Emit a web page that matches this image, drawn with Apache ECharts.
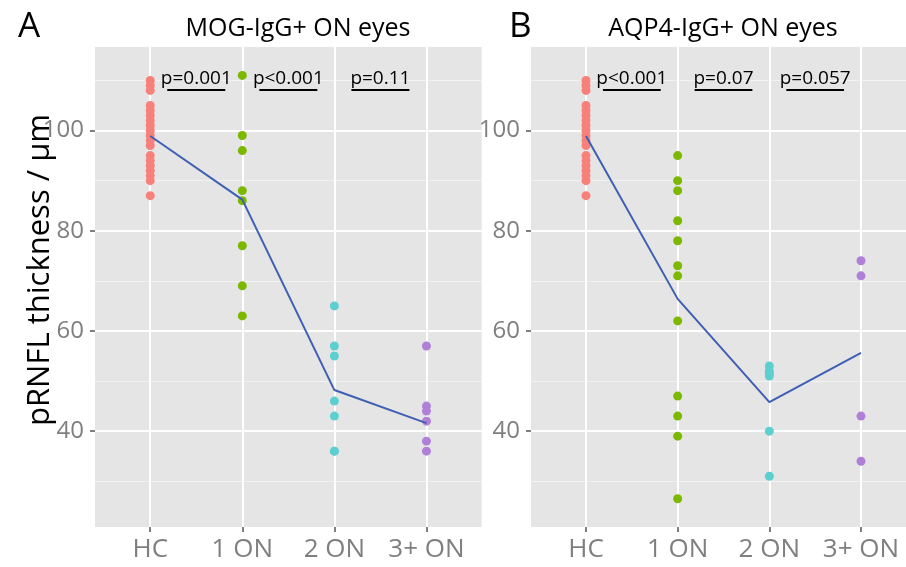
<!DOCTYPE html>
<html>
<head>
<meta charset="utf-8">
<script src="https://cdn.jsdelivr.net/npm/echarts@6/dist/echarts.min.js"></script>
<style>
    html, body { margin: 0; padding: 0; background: #fff; }
    #chart { width: 906px; height: 567px; }
</style>
</head>
<body>
<div id="chart"></div>
<script>
    // categories on the x axis (same for both panels)
    const categories = ['HC', '1 ON', '2 ON', '3+ ON'];

    // A: MOG-IgG+ ON eyes
    const mogHC = [110, 109, 108, 105, 104, 103, 102, 101, 100, 99, 98, 97, 95, 94, 93, 92, 91, 90, 87];
    const mog1ON = [111, 99, 96, 88, 86, 77, 69, 63];
    const mog2ON = [65, 57, 55, 46, 43, 36, 36];
    const mog3ON = [57, 45, 44, 42, 38, 36];
    const mogMean = [98.9, 86.2, 48.2, 41.6];
    const mogP = ['p=0.001', 'p<0.001', 'p=0.11'];

    // B: AQP4-IgG+ ON eyes
    const aqpHC = [110, 109, 108, 105, 104, 103, 102, 101, 100, 99, 98, 97, 95, 94, 93, 92, 91, 90, 87];
    const aqp1ON = [95, 90, 88, 82, 78, 73, 71, 62, 47, 43, 39, 26.5];
    const aqp2ON = [53, 52, 51.5, 51, 40, 31];
    const aqp3ON = [74, 71, 43, 34];
    const aqpMean = [98.9, 66.4, 45.8, 55.6];
    const aqpP = ['p<0.001', 'p=0.07', 'p=0.057'];

    // y tick labels
    const yMajor = [40, 60, 80, 100];
    const yMinor = [30, 50, 70, 90, 110];
    const pLineY = 108.1;

    (function(){
        let myChart = echarts.init(document.getElementById('chart'));
        const font = 'Open Sans';
        const colors = ['#F8807A', '#7DB800', '#5DCFD0', '#B080D8'];

        function xAxisFor(idx){
            return {
                type: 'value', gridIndex: idx, min: 0.4, max: 4.6,
                axisLine: { show: false },
                axisTick: { customValues: [1, 2, 3, 4], length: 5, lineStyle: { color: '#555', width: 1.5 } },
                axisLabel: {
                    customValues: [1, 2, 3, 4],
                    formatter: function(v){ return categories[Math.round(v) - 1]; },
                    color: '#7F7F7F', fontSize: 26, fontFamily: font, margin: 10
                },
                splitLine: { show: true, lineStyle: { color: '#FFFFFF', width: 2 } }
            };
        }

        function yAxisFor(idx){
            return {
                type: 'value', gridIndex: idx, min: 20.87, max: 116.67,
                axisLine: { show: false },
                axisTick: { customValues: yMajor, length: 5, lineStyle: { color: '#555', width: 1.5 } },
                axisLabel: { customValues: yMajor, color: '#7F7F7F', fontSize: 24, fontFamily: font, margin: 11 },
                splitLine: { show: true, lineStyle: { color: '#FFFFFF', width: 2 } }
            };
        }

        function yMinorFor(idx){
            return {
                type: 'value', gridIndex: idx, min: 20.87, max: 116.67,
                axisLine: { show: false },
                axisTick: { show: false, customValues: yMinor },
                axisLabel: { show: false },
                splitLine: { show: true, lineStyle: { color: '#F2F2F2', width: 1 } }
            };
        }

        function points(values, pos){
            return values.map(function(v){ return [pos, v]; });
        }

        function panelSeries(idx, groups, means, pLabels){
            let out = [];
            groups.forEach(function(g, i){
                out.push({
                    type: 'scatter', xAxisIndex: idx, yAxisIndex: idx * 2,
                    symbolSize: 9, itemStyle: { color: colors[i], opacity: 1 },
                    data: points(g, i + 1), z: 3
                });
            });
            let pLines = pLabels.map(function(p, i){
                return [
                    { name: p, coord: [i + 1 + 0.185, pLineY] },
                    { coord: [i + 1 + 0.815, pLineY] }
                ];
            });
            out.push({
                type: 'line', xAxisIndex: idx, yAxisIndex: idx * 2,
                data: means.map(function(m, i){ return [i + 1, m]; }),
                showSymbol: false, symbol: 'none',
                lineStyle: { color: '#3F5FB5', width: 2 }, z: 4,
                markLine: {
                    silent: true, symbol: ['none', 'none'],
                    lineStyle: { color: '#000', width: 2, type: 'solid' },
                    label: { show: true, position: 'middle', formatter: '{b}', color: '#000', fontSize: 19, fontFamily: font, distance: 2 },
                    data: pLines
                }
            });
            return out;
        }

        let option = {
            animation: false,
            backgroundColor: '#FFFFFF',
            title: [
                { text: 'A', left: 13, top: 5, textStyle: { fontSize: 35, fontWeight: 'normal', fontFamily: font, color: '#000' } },
                { text: 'B', left: 504, top: 5, textStyle: { fontSize: 35, fontWeight: 'normal', fontFamily: font, color: '#000' } },
                { text: 'MOG-IgG+ ON eyes', left: 293, top: 11, textAlign: 'center', textStyle: { fontSize: 25, fontWeight: 'normal', fontFamily: font, color: '#000' } },
                { text: 'AQP4-IgG+ ON eyes', left: 718, top: 11, textAlign: 'center', textStyle: { fontSize: 25, fontWeight: 'normal', fontFamily: font, color: '#000' } }
            ],
            graphic: [{
                type: 'text', x: 40, y: 270, rotation: Math.PI / 2,
                style: { text: 'pRNFL thickness / µm', fontSize: 31, fontFamily: font, fill: '#000', align: 'center', verticalAlign: 'middle' }
            }],
            grid: [
                { left: 95, top: 47, width: 386.7, height: 480, show: true, backgroundColor: '#E5E5E5', borderWidth: 0, outerBoundsMode: 'none' },
                { left: 531, top: 47, width: 385, height: 480, show: true, backgroundColor: '#E5E5E5', borderWidth: 0, outerBoundsMode: 'none' }
            ],
            xAxis: [xAxisFor(0), xAxisFor(1)],
            yAxis: [yAxisFor(0), yMinorFor(0), yAxisFor(1), yMinorFor(1)],
            series: [].concat(
                panelSeries(0, [mogHC, mog1ON, mog2ON, mog3ON], mogMean, mogP),
                panelSeries(1, [aqpHC, aqp1ON, aqp2ON, aqp3ON], aqpMean, aqpP)
            )
        };

        myChart.setOption(option);
    })();
</script>
</body>
</html>
